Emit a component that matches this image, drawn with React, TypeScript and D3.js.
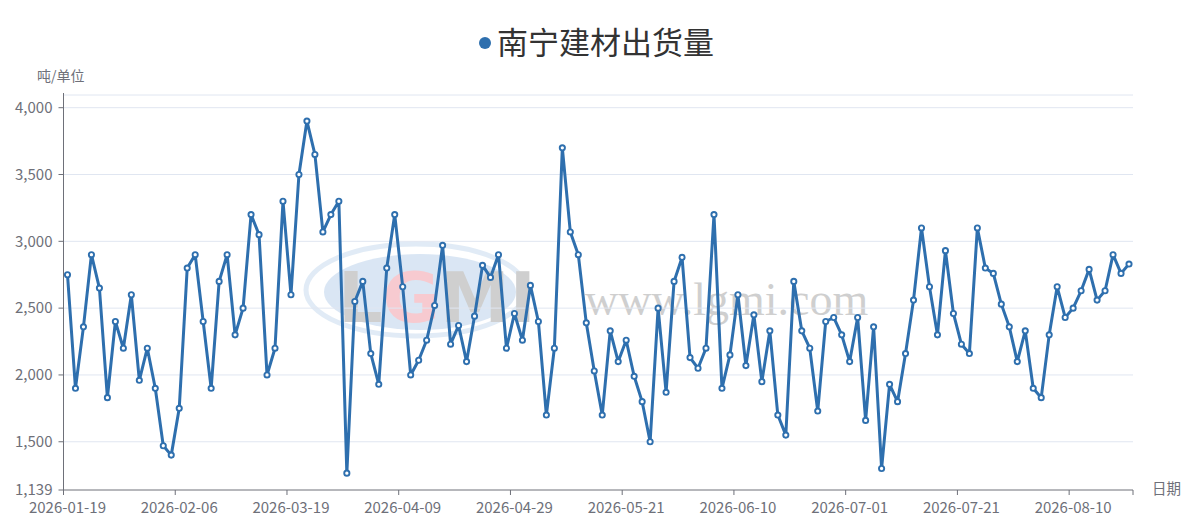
import React from "react";
import * as d3 from "d3";

const SERIES_NAME = "南宁建材出货量";
const Y_UNIT = "吨/单位";
const X_NAME = "日期";

const VALUES: number[] = [
  2750, 1900, 2360, 2900, 2650, 1830, 2400, 2200, 2600, 1960,
  2200, 1900, 1470, 1400, 1750, 2800, 2900, 2400, 1900, 2700,
  2900, 2300, 2500, 3200, 3050, 2000, 2200, 3300, 2600, 3500,
  3900, 3650, 3070, 3200, 3300, 1265, 2550, 2700, 2160, 1930,
  2800, 3200, 2660, 2000, 2110, 2260, 2520, 2970, 2230, 2370,
  2100, 2440, 2820, 2730, 2900, 2200, 2460, 2260, 2670, 2400,
  1700, 2200, 3700, 3070, 2900, 2390, 2030, 1700, 2330, 2100,
  2260, 1990, 1800, 1500, 2500, 1870, 2700, 2880, 2130, 2050,
  2200, 3200, 1900, 2150, 2600, 2070, 2450, 1950, 2330, 1700,
  1550, 2700, 2330, 2200, 1730, 2400, 2430, 2300, 2100, 2430,
  1660, 2360, 1300, 1930, 1800, 2160, 2560, 3100, 2660, 2300,
  2930, 2460, 2230, 2160, 3100, 2800, 2760, 2530, 2360, 2100,
  2330, 1900, 1830, 2300, 2660, 2430, 2500, 2630, 2790, 2560,
  2630, 2900, 2760, 2830,
];

const X_TICK_LABELS: string[] = [
  "2026-01-19", "2026-02-06", "2026-03-19", "2026-04-09", "2026-04-29",
  "2026-05-21", "2026-06-10", "2026-07-01", "2026-07-21", "2026-08-10",
];
const X_TICK_INTERVAL = 14;

const Y_MIN = 1139;
const Y_MAX = 4095;
const Y_TICKS: number[] = [1139, 1500, 2000, 2500, 3000, 3500, 4000];

const W = 1193;
const H = 522;
const LEFT = 63.5;
const RIGHT = 1133;
const TOP = 95;
const BOTTOM = 490;

const LINE_COLOR = "#2e6fae";
const AXIS_COLOR = "#6E7079";
const GRID_COLOR = "#E0E6F1";
const FONT = "'Noto Sans CJK SC', 'Noto Sans', sans-serif";

export default function App() {
  const idx = d3.range(VALUES.length);
  const x = d3.scaleBand<number>().domain(idx).range([LEFT, RIGHT]);
  const bw = x.bandwidth();
  const cx = (i: number) => (x(i) as number) + bw / 2;
  const y = d3.scaleLinear().domain([Y_MIN, Y_MAX]).range([BOTTOM, TOP]);
  const fmt = d3.format(",");

  const linePath = d3
    .line<number>()
    .x((_, i) => cx(i))
    .y((d) => y(d))(VALUES) as string;

  return (
    <div style={{ position: "absolute", left: 0, top: 0 }}>
      <svg width={W} height={H} style={{ display: "block", background: "#fff" }} fontFamily={FONT}>
        {/* watermark */}
        <g opacity={0.55}>
          <ellipse cx={416} cy={290} rx={110} ry={46} fill="none" stroke="#c9dcef" strokeWidth={5} />
          <ellipse cx={420} cy={292} rx={96} ry={38} fill="#bcd3ec" />
          <text x={338} y={322} fontSize={70} fontWeight={700} fontFamily="'DejaVu Sans', sans-serif" fill="#a8a8a8">
            <tspan>L</tspan>
            <tspan fill="#f1a0aa">G</tspan>
            <tspan>MI</tspan>
          </text>
          <text x={585} y={315} fontSize={46} fontFamily="'Liberation Serif', serif" fill="#a9a9a9">www.lgmi.com</text>
        </g>

        {/* grid */}
        <line x1={LEFT} x2={RIGHT} y1={TOP} y2={TOP} stroke={GRID_COLOR} />
        {Y_TICKS.filter((t) => t !== Y_MIN).map((t) => (
          <line key={t} x1={LEFT} x2={RIGHT} y1={y(t)} y2={y(t)} stroke={GRID_COLOR} />
        ))}

        {/* y axis */}
        <line x1={LEFT} x2={LEFT} y1={TOP - 2} y2={BOTTOM} stroke={AXIS_COLOR} />
        {Y_TICKS.map((t) => (
          <g key={t}>
            <line x1={LEFT - 5} x2={LEFT} y1={y(t)} y2={y(t)} stroke={AXIS_COLOR} />
            <text x={LEFT - 11} y={y(t)} dy="0.35em" textAnchor="end" fontSize={15} fill={AXIS_COLOR}>
              {fmt(t)}
            </text>
          </g>
        ))}
        <text x={37} y={76} dy="0.35em" fontSize={14} fill={AXIS_COLOR}>{Y_UNIT}</text>

        {/* x axis */}
        <line x1={LEFT} x2={RIGHT} y1={BOTTOM} y2={BOTTOM} stroke={AXIS_COLOR} />
        <line x1={RIGHT} x2={RIGHT} y1={BOTTOM} y2={BOTTOM + 5} stroke={AXIS_COLOR} />
        {X_TICK_LABELS.map((lab, k) => {
          const i = k * X_TICK_INTERVAL;
          const tx = x(i) as number;
          return (
            <g key={lab}>
              <line x1={tx} x2={tx} y1={BOTTOM} y2={BOTTOM + 5} stroke={AXIS_COLOR} />
              <text x={cx(i)} y={BOTTOM + 18} dy="0.35em" textAnchor="middle" fontSize={15} fill={AXIS_COLOR}>
                {lab}
              </text>
            </g>
          );
        })}
        <text x={1152} y={489} dy="0.35em" fontSize={14.5} fill={AXIS_COLOR}>{X_NAME}</text>

        {/* series */}
        <path d={linePath} fill="none" stroke={LINE_COLOR} strokeWidth={3} strokeLinejoin="round" />
        {VALUES.map((v, i) => (
          <circle key={i} cx={cx(i)} cy={y(v)} r={2.6} fill="#fff" stroke={LINE_COLOR} strokeWidth={1.9} />
        ))}

        {/* legend / title */}
        <circle cx={485} cy={43} r={6} fill={LINE_COLOR} />
        <text x={497} y={43} dy="0.35em" fontSize={31} fill="#333">{SERIES_NAME}</text>
      </svg>
    </div>
  );
}
